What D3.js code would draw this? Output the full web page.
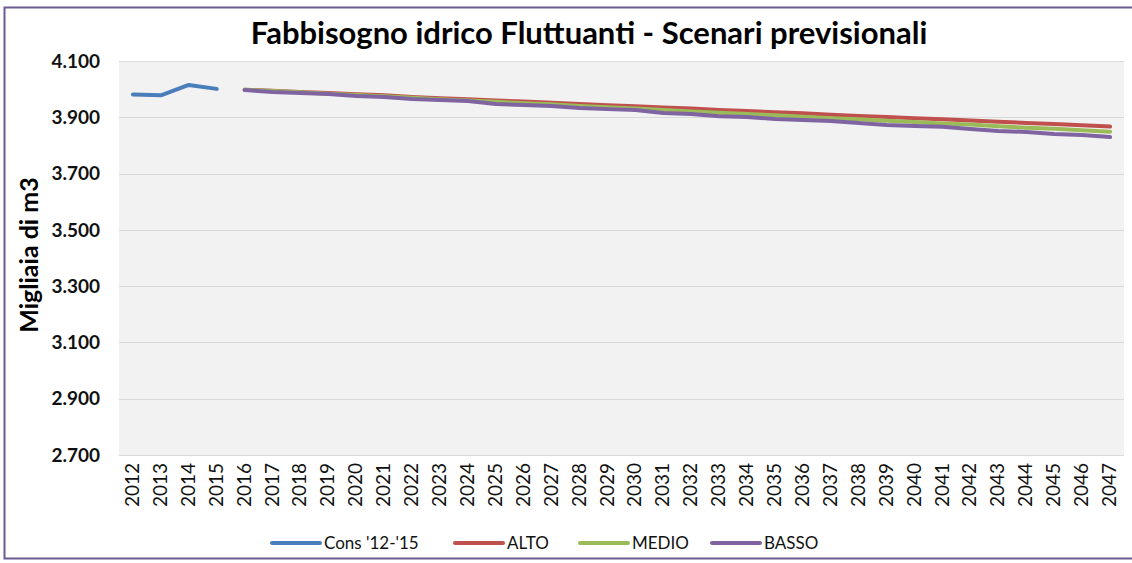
<!DOCTYPE html>
<html lang="it">
<head>
  <meta charset="UTF-8">
  <title>Fabbisogno idrico Fluttuanti</title>
  <script src="https://d3js.org/d3.v7.min.js"></script>
  <style>
    body { margin: 0; background: #fff; }
    svg { display: block; font-family: Lato, "Open Sans", sans-serif; }
    .grid line { stroke: #d9d9d9; stroke-width: 1px; }
    .ytick { font-weight: bold; font-size: 19px; fill: #111; }
    .xtick { font-size: 19px; fill: #111; }
    .legend text { font-size: 17px; fill: #111; }
  </style>
</head>
<body>
  <svg width="1132" height="563"></svg>
  <script>
    // anni sull'asse x
    const years = d3.range(2012, 2048).map(String);

    // dati storici (migliaia di m3)
    const consYears = ["2012", "2013", "2014", "2015"];
    const consValues = [3981, 3978, 4015, 4001];

    // scenari 2016-2047
    const scenYears = d3.range(2016, 2048).map(String);
    const alto = [3998, 3994, 3990, 3986, 3982, 3978, 3972, 3968, 3964, 3960, 3956, 3952, 3947, 3943, 3939, 3935,
                  3931, 3926, 3922, 3918, 3914, 3909, 3905, 3901, 3897, 3893, 3889, 3884, 3880, 3876, 3872, 3867];
    const medio = [3998, 3993, 3989, 3984, 3979, 3975, 3969, 3964, 3960, 3955, 3950, 3946, 3940, 3936, 3931, 3926,
                   3921, 3916, 3912, 3907, 3902, 3897, 3893, 3888, 3883, 3878, 3874, 3868, 3863, 3859, 3854, 3849];
    const basso = [3997, 3990, 3986, 3983, 3976, 3972, 3965, 3961, 3958, 3947, 3944, 3940, 3933, 3929, 3926, 3915,
                   3912, 3904, 3901, 3894, 3890, 3887, 3880, 3873, 3869, 3866, 3858, 3851, 3848, 3841, 3837, 3830];

    const yTicks = [2700, 2900, 3100, 3300, 3500, 3700, 3900, 4100];

    const series = [
      { name: "Cons '12-'15", x: consYears, v: consValues, color: "#4a7ebb" },
      { name: "ALTO", x: scenYears, v: alto, color: "#c0504d" },
      { name: "MEDIO", x: scenYears, v: medio, color: "#9bbb59" },
      { name: "BASSO", x: scenYears, v: basso, color: "#8064a2" }
    ];

    const svg = d3.select("svg");
    const plot = { left: 119, right: 1124, top: 61, bottom: 455 };

    // cornice del grafico
    svg.append("rect")
      .attr("x", 4.5).attr("y", 7.5)
      .attr("width", 1132).attr("height", 551)
      .attr("fill", "#fff")
      .attr("stroke", "#6d5a93").attr("stroke-width", 2);

    const x = d3.scaleBand().domain(years).range([plot.left, plot.right]);
    const y = d3.scaleLinear().domain([2700, 4100]).range([plot.bottom, plot.top]);

    svg.append("rect")
      .attr("x", plot.left).attr("y", plot.top)
      .attr("width", plot.right - plot.left).attr("height", plot.bottom - plot.top)
      .attr("fill", "#f2f2f2");

    svg.append("g").attr("class", "grid")
      .selectAll("line").data(yTicks).join("line")
      .attr("x1", plot.left).attr("x2", plot.right)
      .attr("y1", d => Math.round(y(d)) + 0.5).attr("y2", d => Math.round(y(d)) + 0.5);

    const fmt = d => d3.format(",")(d).replace(",", ".");
    svg.append("g").selectAll("text").data(yTicks).join("text")
      .attr("class", "ytick")
      .attr("x", 100).attr("y", d => y(d))
      .attr("dy", "0.35em")
      .attr("text-anchor", "end")
      .text(fmt);

    svg.append("g").selectAll("text").data(years).join("text")
      .attr("class", "xtick")
      .attr("transform", d => `translate(${x(d) + x.bandwidth() / 2 + 6},${plot.bottom + 8}) rotate(-90)`)
      .attr("text-anchor", "end")
      .text(d => d);

    svg.append("text")
      .attr("transform", `translate(38,255) rotate(-90)`)
      .attr("text-anchor", "middle")
      .attr("font-weight", "bold").attr("font-size", 25)
      .text("Migliaia di m3");

    svg.append("text")
      .attr("x", 589).attr("y", 44)
      .attr("text-anchor", "middle")
      .attr("font-weight", "bold").attr("font-size", 31)
      .text("Fabbisogno idrico Fluttuanti - Scenari previsionali");

    const line = d3.line().x(d => x(d[0]) + x.bandwidth() / 2).y(d => y(d[1]));
    svg.append("g").selectAll("path").data(series).join("path")
      .attr("d", s => line(s.x.map((k, i) => [k, s.v[i]])))
      .attr("fill", "none")
      .attr("stroke", s => s.color)
      .attr("stroke-width", 4)
      .attr("stroke-linecap", "round")
      .attr("stroke-linejoin", "round");

    // legenda
    const legX = [272, 455, 580, 712];
    const leg = svg.append("g").attr("class", "legend")
      .selectAll("g").data(series).join("g")
      .attr("transform", (s, i) => `translate(${legX[i]},543)`);
    leg.append("line")
      .attr("x1", 0).attr("x2", 48)
      .attr("stroke", s => s.color).attr("stroke-width", 4).attr("stroke-linecap", "round");
    leg.append("text")
      .attr("x", 52).attr("dy", "0.35em")
      .text(s => s.name);
  </script>
</body>
</html>
